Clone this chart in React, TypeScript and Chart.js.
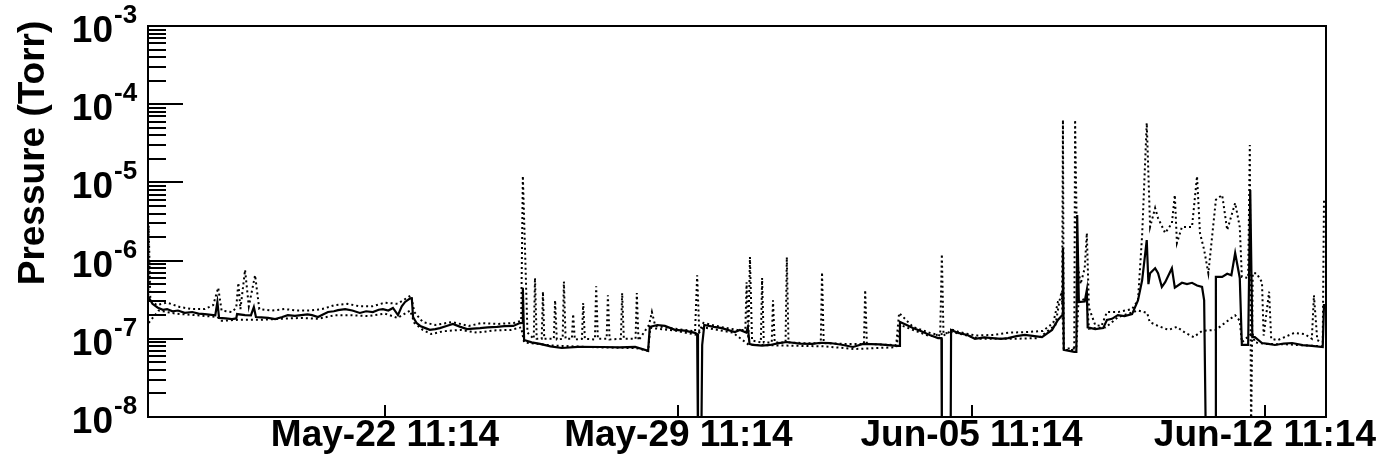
import React, { useEffect, useRef } from "react";
import { Chart, registerables } from "chart.js";

Chart.register(...registerables);

// Time axis: days relative to May-22 11:14
const X_MIN = -5.656;
const X_MAX = 22.458;
const TICK_DAYS = [0, 7, 14, 21];
const TICK_LABELS = ["May-22 11:14", "May-29 11:14", "Jun-05 11:14", "Jun-12 11:14"];

const Y_MIN = 1e-8;
const Y_MAX = 1e-3;
const Y_DECADES = [1e-8, 1e-7, 1e-6, 1e-5, 1e-4, 1e-3];
const Y_EXPONENTS = ["-8", "-7", "-6", "-5", "-4", "-3"];
const Y_MINOR_MULT = [2, 3, 4, 5, 6, 7, 8, 9];

// Solid gauge
const SOLID_T = [
  -5.64, -5.55, -5.42, -5.3, -5.2, -5.07, -4.94, -4.78, -4.6, -4.45, -4.3, -4.05, -4.0, -3.96, -3.8, -3.65, -3.55, -3.53, -3.34, -3.2, -3.13,
  -3.08, -2.95, -2.79, -2.62, -2.45, -2.32, -2.15, -2.0, -1.85, -1.74, -1.6, -1.48, -1.36, -1.22, -1.12, -0.95, -0.78, -0.6, -0.45, -0.29, -0.15, -0.05, 0.08, 0.19, 0.31, 0.4, 0.48,
  0.6, 0.64, 0.67, 0.75, 0.84, 0.95, 1.07, 1.2, 1.31, 1.45, 1.62, 1.8, 1.96, 2.1, 2.27, 2.45, 2.67, 2.85, 3.06, 3.22, 3.28, 3.29, 3.32, 3.5, 3.7, 3.95, 4.22, 4.6, 5.18, 5.6,
  5.97, 6.28, 6.3, 6.32, 6.5, 6.68, 6.92, 7.15, 7.4, 7.45, 7.47, 7.55, 7.57, 7.62, 7.85, 8.04, 8.35, 8.47, 8.62, 8.66, 8.7,
  8.78, 9.0, 9.19, 9.4, 9.59, 9.9, 10.2, 10.4, 10.62, 10.9, 11.17, 11.41, 11.8, 12.22, 12.27, 12.29, 12.45, 12.6, 12.8, 13.0, 13.2, 13.28, 13.29, 13.5,
  13.51, 13.68, 13.9, 14.08, 14.3, 14.49, 14.7, 14.87, 15.07, 15.27, 15.5, 15.68, 15.92, 16.06, 16.16, 16.18, 16.2, 16.45, 16.5, 16.52,
  16.56, 16.7, 16.75, 16.77, 16.95, 17.14, 17.23, 17.35, 17.49, 17.65, 17.83, 17.97, 18.07, 18.18, 18.22, 18.26, 18.38,
  18.45, 18.54, 18.62, 18.78, 18.85, 19.02, 19.14, 19.26, 19.38, 19.5, 19.55, 19.59, 19.82, 19.83, 19.98, 20.1, 20.2, 20.29,
  20.4, 20.45, 20.6, 20.65, 20.7, 20.76, 20.93, 21.08, 21.24, 21.45, 21.65, 21.9, 22.12, 22.38, 22.41, 22.46,
];
const SOLID_P = [
  3.4e-7, 2.8e-7, 2.5e-7, 2.35e-7, 2.4e-7, 2.25e-7, 2.3e-7, 2.15e-7, 2.2e-7, 2.1e-7, 2.07e-7, 2.0e-7, 2.96e-7, 1.85e-7, 1.82e-7, 1.79e-7, 1.82e-7, 2.07e-7, 2.01e-7, 2.0e-7, 2.55e-7,
  1.9e-7, 1.88e-7, 1.85e-7, 1.79e-7, 1.9e-7, 2.01e-7, 1.96e-7, 2.01e-7, 2.05e-7, 2.01e-7, 1.9e-7, 2.05e-7, 2.2e-7, 2.25e-7, 2.33e-7, 2.4e-7, 2.3e-7, 2.14e-7, 2.25e-7, 2.2e-7, 2.35e-7, 2.4e-7, 2.3e-7, 2.48e-7, 2.01e-7, 2.6e-7, 2.96e-7,
  3.3e-7, 3.3e-7, 1.9e-7, 1.6e-7, 1.46e-7, 1.38e-7, 1.3e-7, 1.33e-7, 1.37e-7, 1.45e-7, 1.55e-7, 1.42e-7, 1.33e-7, 1.35e-7, 1.37e-7, 1.4e-7, 1.42e-7, 1.45e-7, 1.46e-7, 1.59e-7, 1.6e-7, 4.5e-7, 9.65e-8, 9.0e-8, 8.6e-8, 8.0e-8, 7.63e-8, 7.9e-8, 7.86e-8, 7.75e-8,
  7.86e-8, 7.0e-8, 7.0e-8, 1.42e-7, 1.5e-7, 1.46e-7, 1.3e-7, 1.27e-7, 1.19e-7, 1.15e-7, 5e-9, 5e-9, 8.34e-8, 1.5e-7, 1.42e-7, 1.37e-7, 1.22e-7, 1.3e-7, 1.2e-7, 1.4e-7, 8.6e-8,
  8.34e-8, 8.2e-8, 8.34e-8, 8.8e-8, 9.1e-8, 8.7e-8, 8.6e-8, 8.9e-8, 8.83e-8, 8.4e-8, 7.86e-8, 8.6e-8, 8.5e-8, 8.1e-8, 8.1e-8, 1.64e-7, 1.5e-7, 1.37e-7, 1.25e-7, 1.12e-7, 1.02e-7, 1.02e-7, 5e-9, 5e-9,
  1.3e-7, 1.19e-7, 1.12e-7, 1.0e-7, 1.04e-7, 1.02e-7, 1.0e-7, 1.02e-7, 1.08e-7, 1.12e-7, 1.08e-7, 1.05e-7, 1.3e-7, 1.74e-7, 2.0e-7, 1.45e-6, 7.2e-8, 6.8e-8, 6.8e-8, 3.83e-6,
  2.96e-7, 3.0e-7, 4.2e-7, 1.4e-7, 1.33e-7, 1.37e-7, 1.74e-7, 1.8e-7, 2.01e-7, 1.95e-7, 2.07e-7, 3.1e-7, 5.6e-7, 1.83e-6, 5.0e-7, 6.9e-7, 8.0e-7,
  6.9e-7, 4.6e-7, 5.3e-7, 8.0e-7, 4.5e-7, 5.2e-7, 5.0e-7, 5.2e-7, 4.8e-7, 4.6e-7, 3.1e-7, 5e-9, 5e-9, 6.2e-7, 6.2e-7, 6.8e-7, 6.5e-7, 1.25e-6,
  6.0e-7, 8.34e-8, 8.34e-8, 8.0e-6, 1.05e-7, 1.05e-7, 8.83e-8, 8.6e-8, 8.34e-8, 8.7e-8, 8.83e-8, 8.3e-8, 8.1e-8, 7.86e-8, 2.7e-7, 2.7e-7,
];

// Dotted gauge A (upper, spiky)
const DOTA_T = [
  -5.65, -5.64, -5.6, -5.45, -5.2, -4.9, -4.6, -4.3, -4.1, -3.98, -3.9, -3.65, -3.55, -3.5, -3.45, -3.34, -3.25, -3.1, -3.0,
  -2.7, -2.4, -2.1, -1.8, -1.5, -1.2, -0.9, -0.6, -0.3, 0.0, 0.3, 0.55, 0.62, 0.7, 0.9, 1.2, 1.6, 2.0, 2.3, 2.7, 3.1, 3.25,
  3.29, 3.4, 3.55, 3.58, 3.62, 3.74, 3.77, 3.8, 4.03, 4.06, 4.1, 4.24, 4.27, 4.31, 4.46, 4.49, 4.53, 4.7, 4.73, 4.77,
  5.01, 5.04, 5.08, 5.29, 5.32, 5.36, 5.63, 5.66, 5.7, 5.98, 6.01, 6.05, 6.3, 6.37, 6.45, 6.9, 7.4, 7.45, 7.5, 7.6, 8.0,
  8.4, 8.6, 8.63, 8.67, 8.71, 8.76, 8.97, 9.0, 9.04, 9.23, 9.26, 9.3, 9.56, 9.59, 9.63, 10.0, 10.4, 10.43, 10.47, 11.0,
  11.43, 11.46, 11.5, 12.2, 12.27, 12.6, 13.0, 13.25, 13.29, 13.33, 13.55, 13.7, 14.1, 14.5, 14.9, 15.3, 15.7, 15.95, 16.06,
  16.16, 16.18, 16.2, 16.45, 16.47, 16.52, 16.6, 16.7, 16.75, 16.8, 16.95, 17.1, 17.23, 17.5, 17.83, 17.97, 18.07, 18.18,
  18.26, 18.38, 18.45, 18.62, 18.78, 18.85, 18.9, 19.02, 19.26, 19.38, 19.45, 19.55, 19.65, 19.83, 19.98, 20.1, 20.29,
  20.4, 20.45, 20.6, 20.64, 20.67, 20.71, 20.8, 20.93, 20.97, 21.1, 21.15, 21.3, 21.7, 21.95, 22.12, 22.17, 22.25, 22.38,
  22.41, 22.46,
];
const DOTA_P = [
  3.1e-7, 2.8e-6, 3.1e-7, 2.7e-7, 2.9e-7, 2.55e-7, 2.4e-7, 2.4e-7, 2.7e-7, 4.5e-7, 2.3e-7, 2.2e-7, 2.5e-7, 5.2e-7, 2.4e-7, 7.6e-7, 2.6e-7, 6.5e-7, 2.4e-7,
  2.3e-7, 2.4e-7, 2.3e-7, 2.3e-7, 2.4e-7, 2.7e-7, 2.8e-7, 2.6e-7, 2.6e-7, 2.9e-7, 2.8e-7, 3.4e-7, 3.6e-7, 2.2e-7, 1.64e-7, 1.5e-7, 1.64e-7, 1.46e-7, 1.59e-7, 1.55e-7, 1.6e-7, 1.7e-7,
  1.21e-5, 1.2e-7, 1.0e-7, 6.0e-7, 1.0e-7, 1.0e-7, 4.0e-7, 1.0e-7, 1.0e-7, 3.1e-7, 9.8e-8, 1.0e-7, 5.4e-7, 1.0e-7, 1.0e-7, 2.07e-7, 9.8e-8, 1.0e-7, 2.87e-7, 1.0e-7,
  9.8e-8, 4.7e-7, 1.0e-7, 1.0e-7, 3.6e-7, 9.8e-8, 1.0e-7, 3.85e-7, 1.0e-7, 1.0e-7, 3.85e-7, 9.5e-8, 1.5e-7, 2.2e-7, 1.46e-7, 1.35e-7, 1.25e-7, 6.5e-7, 1.25e-7, 1.6e-7, 1.42e-7,
  1.3e-7, 1.3e-7, 5.3e-7, 1.0e-7, 1.11e-6, 9.5e-8, 9.0e-8, 6.0e-7, 9.0e-8, 9.0e-8, 3.1e-7, 9.0e-8, 9.0e-8, 1.11e-6, 9.0e-8, 8.8e-8, 8.8e-8, 7.1e-7, 8.8e-8, 8.6e-8,
  8.6e-8, 4.2e-7, 8.6e-8, 8.3e-8, 2.14e-7, 1.42e-7, 1.19e-7, 1.1e-7, 1.21e-6, 1.1e-7, 1.3e-7, 1.22e-7, 1.1e-7, 1.12e-7, 1.2e-7, 1.22e-7, 1.26e-7, 1.6e-7, 2.96e-7,
  2.96e-7, 6.3e-5, 7.2e-8, 7.2e-8, 6.3e-5, 1.0e-6, 5.0e-7, 8.0e-7, 2.25e-6, 2.5e-7, 1.5e-7, 1.46e-7, 2.2e-7, 2.2e-7, 2.4e-7, 3.1e-7, 2.12e-6, 5.75e-5,
  2.7e-6, 4.7e-6, 3.5e-6, 2.25e-6, 3.0e-6, 6.9e-6, 1.68e-6, 2.69e-6, 2.69e-6, 1.2e-5, 2.25e-6, 1.37e-6, 6.9e-7, 6.0e-6, 6.9e-6, 2.46e-6, 5.45e-6,
  2.69e-6, 6.2e-7, 6.0e-7, 3.0e-5, 5e-9, 6.9e-7, 6.9e-7, 5.3e-7, 1.1e-7, 4.0e-7, 1.0e-7, 9.6e-8, 1.19e-7, 1.15e-7, 1.0e-7, 3.6e-7, 9.6e-8, 9.1e-8,
  5.96e-6, 5.96e-6,
];

// Dotted gauge B (lower)
const DOTB_T = [
  -5.64, -5.4, -5.0, -4.5, -4.0, -3.9, -3.5, -3.0, -2.5, -2.0, -1.6, -1.2, -0.8, -0.4, 0.0, 0.3, 0.6, 0.7, 0.9, 1.1,
  1.4, 1.8, 2.2, 2.6, 3.0, 3.25, 3.32, 4.0, 5.0, 6.0, 6.28, 6.33, 6.9, 7.45, 7.6, 8.3, 8.68, 9.5, 10.5, 11.2,
  12.2, 12.3, 13.0, 13.55, 14.2, 15.0, 15.6, 16.0, 16.1, 16.15, 16.2, 16.5, 16.55, 16.75, 16.8, 17.2, 17.5, 17.97,
  18.19, 18.25, 18.45, 18.7, 18.9, 19.1, 19.3, 19.5, 19.83, 19.98, 20.29, 20.4, 20.45, 20.7, 20.76, 21.0, 21.5,
  22.0, 22.4, 22.46,
];
const DOTB_P = [
  1.6e-7, 2.3e-7, 2.1e-7, 2.0e-7, 1.9e-7, 1.7e-7, 1.75e-7, 1.75e-7, 1.8e-7, 1.85e-7, 1.8e-7, 2.0e-7, 2.0e-7, 1.95e-7, 2.1e-7, 1.85e-7, 2.3e-7, 1.6e-7, 1.3e-7, 1.15e-7,
  1.25e-7, 1.3e-7, 1.2e-7, 1.28e-7, 1.3e-7, 1.4e-7, 9.0e-8, 8.2e-8, 7.8e-8, 7.6e-8, 7.0e-8, 1.38e-7, 1.28e-7, 1.12e-7, 1.4e-7, 1.2e-7, 8.4e-8, 8.2e-8, 8.0e-8, 7.4e-8,
  7.8e-8, 1.5e-7, 1.08e-7, 1.22e-7, 1.0e-7, 1.0e-7, 1.02e-7, 1.5e-7, 3.1e-7, 4.0e-7, 7.5e-8, 7.5e-8, 3.0e-7, 3.3e-7, 1.35e-7, 1.4e-7, 1.9e-7, 2.3e-7,
  2.14e-7, 1.64e-7, 1.46e-7, 1.3e-7, 1.42e-7, 1.19e-7, 1.05e-7, 1.26e-7, 1.3e-7, 1.5e-7, 2.0e-7, 1.7e-7, 9.0e-8, 1.2e-7, 9.0e-8, 8.6e-8, 8.5e-8,
  8.2e-8, 8.0e-8, 8.0e-8,
];

const toPoints = (t: number[], p: number[]) => t.map((x, i) => ({ x, y: p[i] }));

const FONT = "'Liberation Sans', Arial, Helvetica, sans-serif";

const rootAxes = {
  id: "rootAxes",
  afterDatasetsDraw(chart: any) {
    const { ctx, chartArea: a, scales } = chart;
    const xs = scales.x;
    const ys = scales.y;
    ctx.save();
    ctx.strokeStyle = "#000";
    ctx.fillStyle = "#000";
    ctx.lineWidth = 2;
    ctx.strokeRect(a.left, a.top, a.right - a.left, a.bottom - a.top);

    // y ticks (inside, left)
    ctx.beginPath();
    Y_DECADES.forEach((d) => {
      const py = Math.round(ys.getPixelForValue(d));
      ctx.moveTo(a.left, py);
      ctx.lineTo(a.left + 35, py);
      if (d < Y_MAX) {
        Y_MINOR_MULT.forEach((m) => {
          const q = Math.round(ys.getPixelForValue(m * d));
          ctx.moveTo(a.left, q);
          ctx.lineTo(a.left + 18, q);
        });
      }
    });
    // x ticks (inside, bottom)
    TICK_DAYS.forEach((t) => {
      const px = Math.round(xs.getPixelForValue(t));
      ctx.moveTo(px, a.bottom);
      ctx.lineTo(px, a.bottom - 12);
    });
    ctx.stroke();

    // y labels 10^n
    Y_DECADES.forEach((d, i) => {
      const py = ys.getPixelForValue(d);
      ctx.font = `bold 37px ${FONT}`;
      ctx.textAlign = "right";
      ctx.textBaseline = "alphabetic";
      ctx.fillText("10", 113, py + 16);
      ctx.font = `bold 26px ${FONT}`;
      ctx.textAlign = "left";
      ctx.fillText(Y_EXPONENTS[i], 114, py - 3);
    });

    // x labels
    ctx.font = `bold 37px ${FONT}`;
    ctx.textAlign = "center";
    ctx.textBaseline = "alphabetic";
    TICK_DAYS.forEach((t, i) => {
      ctx.fillText(TICK_LABELS[i], xs.getPixelForValue(t), 446);
    });

    // y title
    ctx.save();
    ctx.translate(44, 153);
    ctx.rotate(-Math.PI / 2);
    ctx.font = `bold 37px ${FONT}`;
    ctx.textAlign = "center";
    ctx.fillText("Pressure (Torr)", 0, 0);
    ctx.restore();

    ctx.restore();
  },
};

export default function App() {
  const ref = useRef<HTMLCanvasElement | null>(null);
  useEffect(() => {
    if (!ref.current) return;
    const chart = new Chart(ref.current, {
      type: "line",
      data: {
        datasets: [
          {
            data: toPoints(SOLID_T, SOLID_P),
            borderColor: "#000",
            borderWidth: 2.2,
            pointRadius: 0,
            tension: 0,
          },
          {
            data: toPoints(DOTA_T, DOTA_P),
            borderColor: "#000",
            borderWidth: 2,
            borderDash: [2, 3],
            pointRadius: 0,
            tension: 0,
          },
          {
            data: toPoints(DOTB_T, DOTB_P),
            borderColor: "#000",
            borderWidth: 2,
            borderDash: [2, 3],
            pointRadius: 0,
            tension: 0,
          },
        ],
      },
      options: {
        animation: false,
        responsive: false,
        events: [],
        layout: { padding: { left: 148, top: 26, right: 55, bottom: 47 } },
        plugins: { legend: { display: false }, tooltip: { enabled: false } },
        scales: {
          x: { type: "linear", min: X_MIN, max: X_MAX, display: false },
          y: { type: "logarithmic", min: Y_MIN, max: Y_MAX, display: false },
        },
      },
      plugins: [rootAxes],
    });
    return () => chart.destroy();
  }, []);
  return (
    <div style={{ position: "fixed", left: 0, top: 0, width: 1381, height: 464, background: "#fff" }}>
      <canvas ref={ref} width={1381} height={464} style={{ display: "block" }} />
    </div>
  );
}
